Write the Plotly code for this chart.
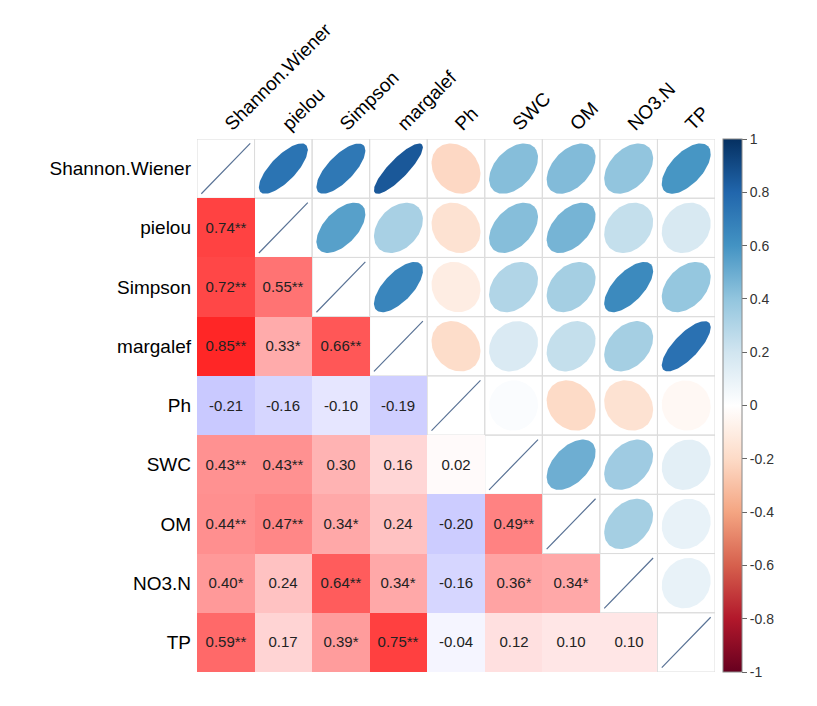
import numpy as np
import plotly.graph_objects as go
from plotly.colors import sample_colorscale

# variable names (rows top->bottom, columns left->right)
names = ["Shannon.Wiener", "pielou", "Simpson", "margalef", "Ph",
         "SWC", "OM", "NO3.N", "TP"]

# lower triangle correlations, row by row
r_rows = [
    [],
    [0.74],
    [0.72, 0.55],
    [0.85, 0.33, 0.66],
    [-0.21, -0.16, -0.10, -0.19],
    [0.43, 0.43, 0.30, 0.16, 0.02],
    [0.44, 0.47, 0.34, 0.24, -0.20, 0.49],
    [0.40, 0.24, 0.64, 0.34, -0.16, 0.36, 0.34],
    [0.59, 0.17, 0.39, 0.75, -0.04, 0.12, 0.10, 0.10],
]
# significance marks
sig_rows = [
    [],
    ["**"],
    ["**", "**"],
    ["**", "*", "**"],
    ["", "", "", ""],
    ["**", "**", "", "", ""],
    ["**", "**", "*", "", "", "**"],
    ["*", "", "**", "*", "", "*", "*"],
    ["**", "", "*", "**", "", "", "", ""],
]

cbar_ticks = [1, 0.8, 0.6, 0.4, 0.2, 0, -0.2, -0.4, -0.6, -0.8, -1]

n = len(names)
R = np.eye(n)
for i, row in enumerate(r_rows):
    for j, v in enumerate(row):
        R[i, j] = v
        R[j, i] = v

# colour scales
rdbu = ["#67001F", "#B2182B", "#D6604D", "#F4A582", "#FDDBC7", "#FFFFFF",
        "#D1E5F0", "#92C5DE", "#4393C3", "#2166AC", "#053061"]
rdbu_scale = [[k / (len(rdbu) - 1), c] for k, c in enumerate(rdbu)]
bwr_scale = [[0, "#0000FF"], [0.5, "#FFFFFF"], [1, "#FF0000"]]

# lower triangle heatmap with numbers
z_low = [[None] * n for _ in range(n)]
txt_low = [[""] * n for _ in range(n)]
for i in range(n):
    for j in range(i):
        z_low[i][j] = R[i, j]
        txt_low[i][j] = "{:.2f}{}".format(R[i, j], sig_rows[i][j])

fig = go.Figure()
fig.add_trace(go.Heatmap(
    z=z_low, x=list(range(n)), y=list(range(n)),
    colorscale=bwr_scale, zmin=-1, zmax=1, showscale=False,
    text=txt_low, texttemplate="%{text}",
    textfont=dict(size=15, color="#222222", family="Liberation Sans"),
    hoverinfo="skip",
))

# cell borders for upper triangle + diagonal
for i in range(n):
    for j in range(i, n):
        fig.add_shape(type="rect", x0=j - 0.5, x1=j + 0.5, y0=i - 0.5, y1=i + 0.5,
                      line=dict(color="#DCDCDC", width=1), layer="below")

# ellipses (corrplot style)
k = np.linspace(0, 2 * np.pi, 99)
for i in range(n):
    for j in range(i, n):
        rho = R[i, j]
        a = np.arccos(np.clip(rho, -1, 1)) / 2
        ex = j + 0.85 * np.cos(k + a) / 2
        ey = i - 0.85 * np.cos(k - a) / 2
        col = sample_colorscale(rdbu_scale, [(rho + 1) / 2])[0]
        if i == j:
            fig.add_trace(go.Scatter(x=ex, y=ey, mode="lines",
                                     line=dict(color="#5A7396", width=1.2),
                                     hoverinfo="skip", showlegend=False))
        else:
            fig.add_trace(go.Scatter(x=ex, y=ey, mode="lines", fill="toself",
                                     fillcolor=col, line=dict(width=0, color=col),
                                     hoverinfo="skip", showlegend=False))

# colorbar carrier
up_i, up_j = np.triu_indices(n, 1)
fig.add_trace(go.Scatter(
    x=up_j, y=up_i, mode="markers",
    marker=dict(size=1, opacity=0, color=R[up_i, up_j], colorscale=rdbu_scale,
                cmin=-1, cmax=1, showscale=True,
                colorbar=dict(x=1.0155, xanchor="left", xpad=0, y=0.5, yanchor="middle",
                              len=1.0, lenmode="fraction", thickness=19, ypad=0,
                              outlinecolor="#888888", outlinewidth=1,
                              ticks="outside", ticklen=5, tickcolor="#666666",
                              tickvals=cbar_ticks,
                              ticktext=[("%g" % t) for t in cbar_ticks],
                              tickfont=dict(size=14, color="#333333"))),
    hoverinfo="skip", showlegend=False,
))

# page body adds an 8px offset, so the figure is a bit smaller
fig.update_layout(
    width=809, height=698,
    margin=dict(l=189, r=102, t=131, b=34, autoexpand=False),
    paper_bgcolor="white", plot_bgcolor="white",
    font=dict(family="Liberation Sans, Arial", color="black"),
    showlegend=False,
    xaxis=dict(range=[-0.5, n - 0.5], side="top", tickvals=list(range(n)),
               ticktext=names, tickangle=-45, tickfont=dict(size=19),
               showgrid=False, zeroline=False, showline=False, ticks="",
               automargin=False, fixedrange=True),
    yaxis=dict(range=[n - 0.5, -0.5], tickvals=list(range(n)), ticktext=names,
               tickfont=dict(size=19), showgrid=False, zeroline=False,
               showline=False, ticks="", ticklabelstandoff=5,
               automargin=False, fixedrange=True),
)

fig.write_html("out.html")
